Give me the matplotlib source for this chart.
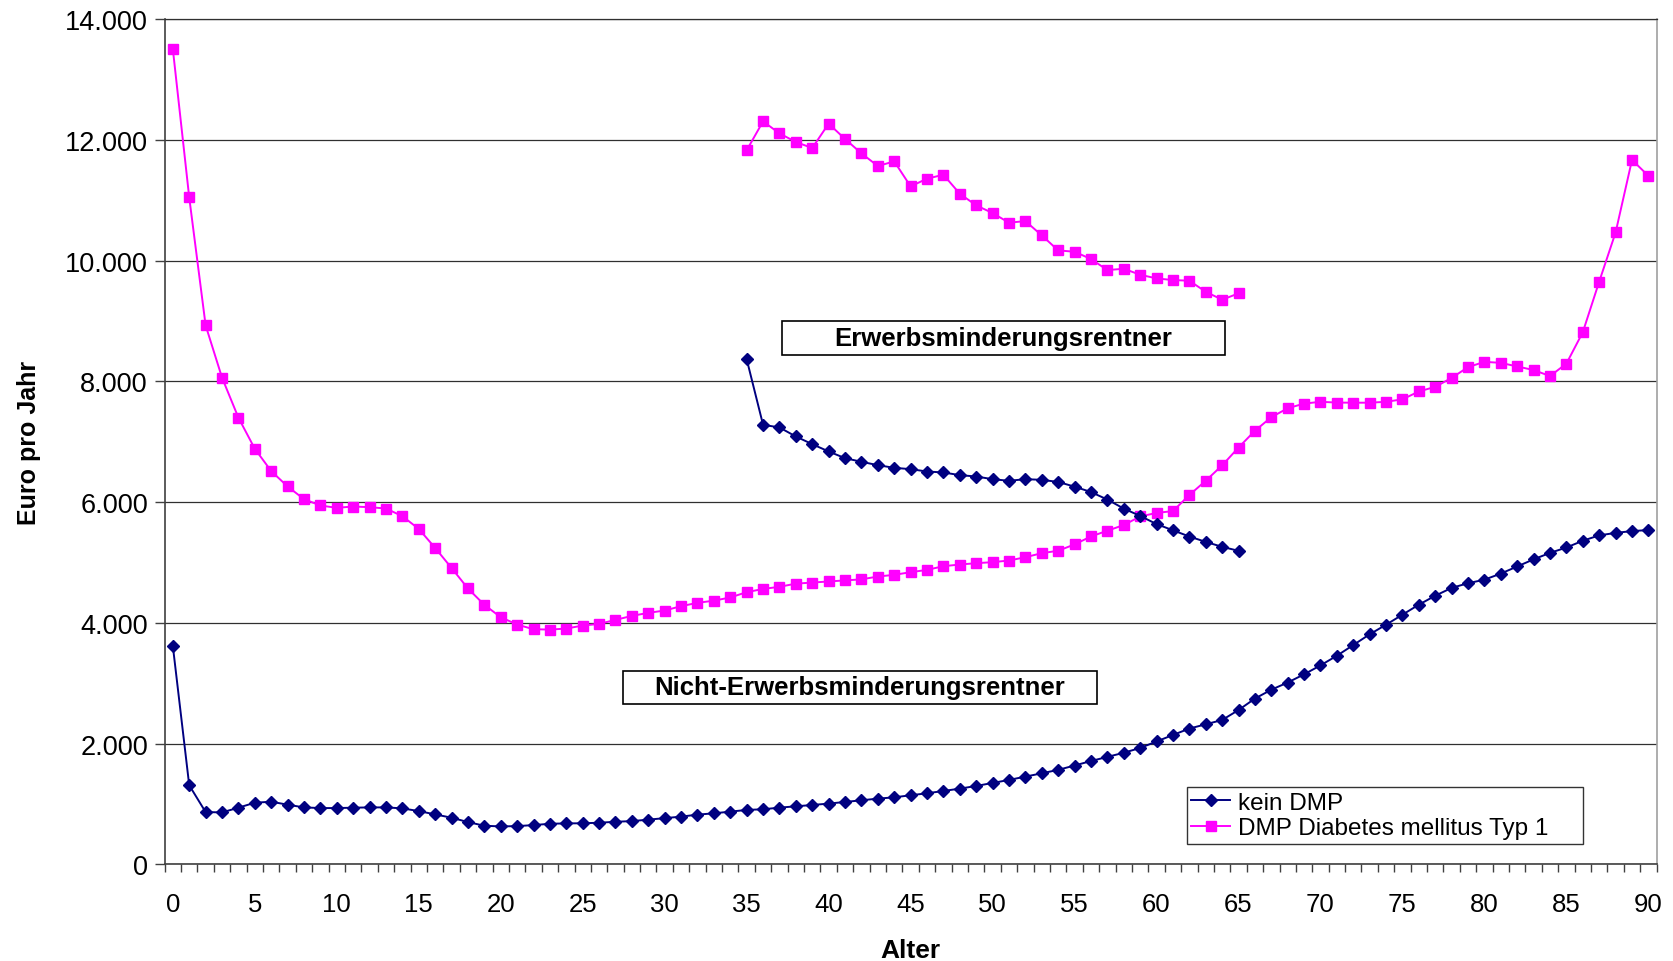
import numpy as np
import matplotlib
matplotlib.use('Agg')
import matplotlib.pyplot as plt
from matplotlib.ticker import FuncFormatter, FixedLocator
from matplotlib.patches import Rectangle

plt.rcParams['font.family'] = ['Liberation Sans', 'DejaVu Sans']

# # data
alter = np.arange(0, 91)
alter_em = np.arange(35, 66)

kein_dmp = [3620, 1310, 866, 860, 938, 1021, 1037, 988, 943, 932,
            932, 938, 943, 943, 927, 882, 827, 772, 700, 639,
            628, 633, 650, 672, 678, 680, 689, 705, 716, 740,
            765, 790, 823, 845, 873, 901, 912, 939, 961, 983,
            1006, 1033, 1061, 1088, 1110, 1144, 1177, 1215, 1254, 1298,
            1348, 1398, 1453, 1508, 1565, 1637, 1711, 1780, 1848, 1928,
            2035, 2143, 2249, 2320, 2391, 2556, 2746, 2893, 3012, 3148,
            3296, 3456, 3633, 3811, 3970, 4136, 4302, 4450, 4580, 4657,
            4716, 4817, 4935, 5053, 5160, 5249, 5361, 5450, 5491, 5521,
            5538]

dmp_typ1 = [13510, 11050, 8930, 8064, 7400, 6885, 6515, 6260, 6050, 5945,
            5906, 5928, 5917, 5895, 5768, 5557, 5242, 4910, 4570, 4299,
            4094, 3972, 3895, 3889, 3906, 3956, 3983, 4050, 4116, 4166,
            4205, 4277, 4332, 4368, 4421, 4509, 4562, 4598, 4650, 4668,
            4686, 4704, 4721, 4768, 4796, 4840, 4878, 4939, 4967, 4989,
            5006, 5033, 5088, 5155, 5195, 5300, 5432, 5527, 5621, 5763,
            5822, 5852, 6118, 6355, 6609, 6905, 7183, 7408, 7556, 7633,
            7663, 7650, 7648, 7648, 7663, 7704, 7834, 7911, 8059, 8237,
            8325, 8308, 8248, 8189, 8089, 8296, 8817, 9655, 10469, 11671,
            11406]

# Erwerbsminderungsrentner (35-65)
kein_dmp_em = [8370, 7282, 7238, 7088, 6961, 6840, 6729, 6669, 6613, 6569,
               6547, 6508, 6492, 6448, 6425, 6381, 6354, 6381, 6370, 6335,
               6257, 6168, 6043, 5894, 5772, 5637, 5534, 5431, 5342, 5260,
               5194]
dmp_typ1_em = [11829, 12309, 12110, 11967, 11867, 12271, 12017, 11779, 11569, 11646,
               11232, 11359, 11425, 11110, 10917, 10790, 10630, 10657, 10420, 10171,
               10149, 10028, 9845, 9867, 9768, 9707, 9680, 9669, 9486, 9354,
               9459]

navy = '#000080'
pink = '#ff00ff'

fig = plt.figure(figsize=(16.73, 9.62), dpi=100)
ax = fig.add_axes([0.0984, 0.1005, 0.8918, 0.8784])

ax.plot(alter, kein_dmp, color=navy, lw=1.4, marker='D', ms=6.5, label='kein DMP')
ax.plot(alter, dmp_typ1, color=pink, lw=1.4, marker='s', ms=7.5,
        label='DMP Diabetes mellitus Typ 1')
ax.plot(alter_em, kein_dmp_em, color=navy, lw=1.4, marker='D', ms=6.5)
ax.plot(alter_em, dmp_typ1_em, color=pink, lw=1.4, marker='s', ms=7.5)

ax.set_xlim(-0.5, 90.5)
ax.set_ylim(0, 14000)

ax.set_yticks(np.arange(0, 14001, 2000))
ax.yaxis.set_major_formatter(FuncFormatter(lambda v, p: ('%d' % v) if v == 0 else '{:,.0f}'.format(v).replace(',', '.')))
ax.grid(axis='y', color='#303030', lw=0.9)
ax.set_axisbelow(True)

ax.set_xticks(np.arange(0, 91, 5))
ax.xaxis.set_minor_locator(FixedLocator(np.arange(-0.5, 91, 1)))
ax.tick_params(axis='x', which='major', length=0, pad=20, labelsize=18.5)
ax.tick_params(axis='x', which='minor', length=6, width=1, color='#404040', direction='out')
ax.tick_params(axis='y', which='major', length=7, width=1, color='#404040', labelsize=19.5, pad=5)

for s in ['left', 'bottom']:
    ax.spines[s].set_color('#404040')
    ax.spines[s].set_linewidth(1.2)
ax.spines['top'].set_color('#303030')
ax.spines['top'].set_linewidth(0.9)
ax.spines['right'].set_color('#a0a0a0')
ax.spines['right'].set_linewidth(1.2)

ax.set_xlabel('Alter', fontsize=19, fontweight='bold', labelpad=16)
ax.set_ylabel('Euro pro Jahr', fontsize=18, fontweight='bold', labelpad=17)

# text boxes
ax.add_patch(Rectangle((37.15, 8439), 27.0, 564, facecolor='white', edgecolor='black', lw=1.2, zorder=4))
ax.text(50.65, 8721, 'Erwerbsminderungsrentner', ha='center', va='center',
        fontsize=18.5, fontweight='bold', zorder=5)
ax.add_patch(Rectangle((27.45, 2656), 28.9, 547, facecolor='white', edgecolor='black', lw=1.2, zorder=4))
ax.text(41.9, 2930, 'Nicht-Erwerbsminderungsrentner', ha='center', va='center',
        fontsize=18.5, fontweight='bold', zorder=5)

leg = ax.legend(loc='lower left', bbox_to_anchor=(0.685, 0.024, 0.266, 0.076), mode='expand',
                fontsize=17.5, frameon=True, fancybox=False, handlelength=1.6,
                handletextpad=0.3, borderpad=0.2, labelspacing=0.15, borderaxespad=0)
leg.get_frame().set_edgecolor('black')
leg.get_frame().set_linewidth(1.0)

fig.savefig('out.png', dpi=100)
